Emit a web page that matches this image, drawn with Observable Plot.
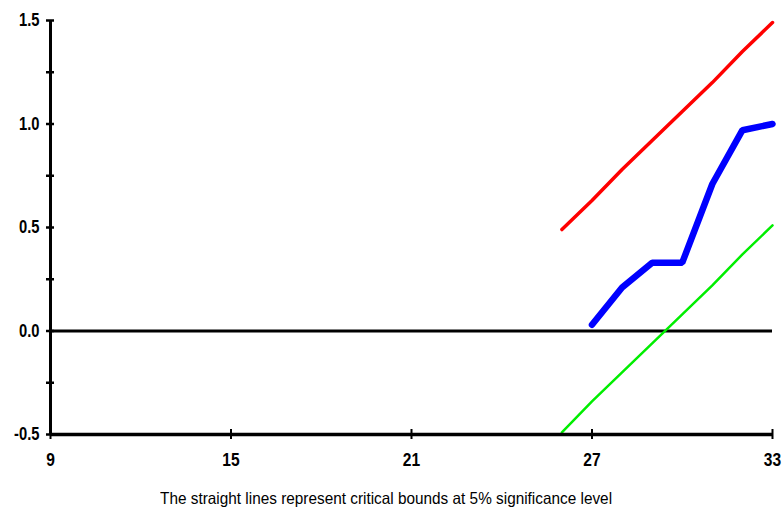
<!DOCTYPE html>
<html>
<head>
<meta charset="utf-8">
<script src="https://cdn.jsdelivr.net/npm/d3@7"></script>
<script src="https://cdn.jsdelivr.net/npm/@observablehq/plot@0.6"></script>
<style>
  body { margin: 0; background: white; }
  #wrap { position: relative; width: 782px; height: 512px; }
  #caption { position: absolute; left: 0; top: 488px; width: 772px; text-align: center;
    font-family: "Liberation Sans", Arial, sans-serif; font-size: 16.5px; line-height: 20px; color: #000; white-space: nowrap; }
  #caption span { display: inline-block; transform-origin: center; }
</style>
</head>
<body>
<div id="wrap"><div id="chart"></div><div id="caption"><span>The straight lines represent critical bounds at 5% significance level</span></div></div>
<script>
const periods = [26, 27, 28, 29, 30, 31, 32, 33];
const upperBound = [0.49, 0.63, 0.78, 0.92, 1.06, 1.20, 1.35, 1.49];
const lowerBound = [-0.49, -0.34, -0.20, -0.06, 0.08, 0.22, 0.37, 0.51];
const cusumPeriods = [27, 28, 29, 30, 31, 32, 33];
const cusumSq = [0.03, 0.21, 0.33, 0.33, 0.71, 0.97, 1.00];
const xTicks = [9, 15, 21, 27, 33];
const yTicks = [-0.5, 0.0, 0.5, 1.0, 1.5];
const yMinorTicks = [-0.5, -0.25, 0, 0.25, 0.5, 0.75, 1.0, 1.25, 1.5];

const upper = periods.map((p, i) => ({x: p, y: upperBound[i]}));
const lower = periods.map((p, i) => ({x: p, y: lowerBound[i]}));
const cusum = cusumPeriods.map((p, i) => ({x: p, y: cusumSq[i]}));

const font = '"Liberation Sans", Arial, sans-serif';

const chart = Plot.plot({
  width: 782,
  height: 456,
  marginTop: 20,
  marginBottom: 22,
  marginLeft: 50,
  marginRight: 10,
  style: {fontFamily: font, fontSize: "18px", fontWeight: "bold", color: "#000", overflow: "visible"},
  x: {domain: [9, 33], label: null},
  y: {domain: [-0.5, 1.5], label: null},
  marks: [
    Plot.ruleY([0], {stroke: "black", strokeWidth: 3}),
    Plot.line(upper, {x: "x", y: "y", stroke: "#ff0000", strokeWidth: 3.5}),
    Plot.line(lower, {x: "x", y: "y", stroke: "#00ee00", strokeWidth: 2.5}),
    Plot.line(cusum, {x: "x", y: "y", stroke: "#0000ff", strokeWidth: 6.5, strokeLinejoin: "miter"}),
    Plot.ruleX([9], {stroke: "black", strokeWidth: 3}),
    Plot.ruleY([-0.5], {stroke: "black", strokeWidth: 3.5}),
    Plot.ruleY(yMinorTicks, {y: d => d, x1: 9, x2: 9, insetLeft: -4, insetRight: -4, stroke: "black", strokeWidth: 2.5}),
    Plot.ruleX(xTicks, {x: d => d, y1: -0.5, y2: -0.5, insetTop: -5, insetBottom: -5, stroke: "black", strokeWidth: 2}),
    Plot.axisY({ticks: yTicks, tickSize: 0, tickPadding: 11, label: null, tickFormat: d => d.toFixed(1), fontWeight: "bold", fontSize: 18}),
    Plot.axisX({ticks: xTicks, tickSize: 0, tickPadding: 18, label: null, tickFormat: d => String(d), fontWeight: "bold", fontSize: 19})
  ]
});
document.getElementById("chart").appendChild(chart);
// emulate a narrow bold typeface for the tick labels
d3.select(chart).selectAll("g[aria-label='y-axis tick label'] text, g[aria-label='x-axis tick label'] text")
  .attr("transform", function() { return (this.getAttribute("transform") || "") + " scale(0.82,1)"; });
// fit the caption to the reference width
const span = document.querySelector("#caption span");
const w = span.getBoundingClientRect().width;
span.style.transform = `scaleX(${452 / w})`;
</script>
</body>
</html>
